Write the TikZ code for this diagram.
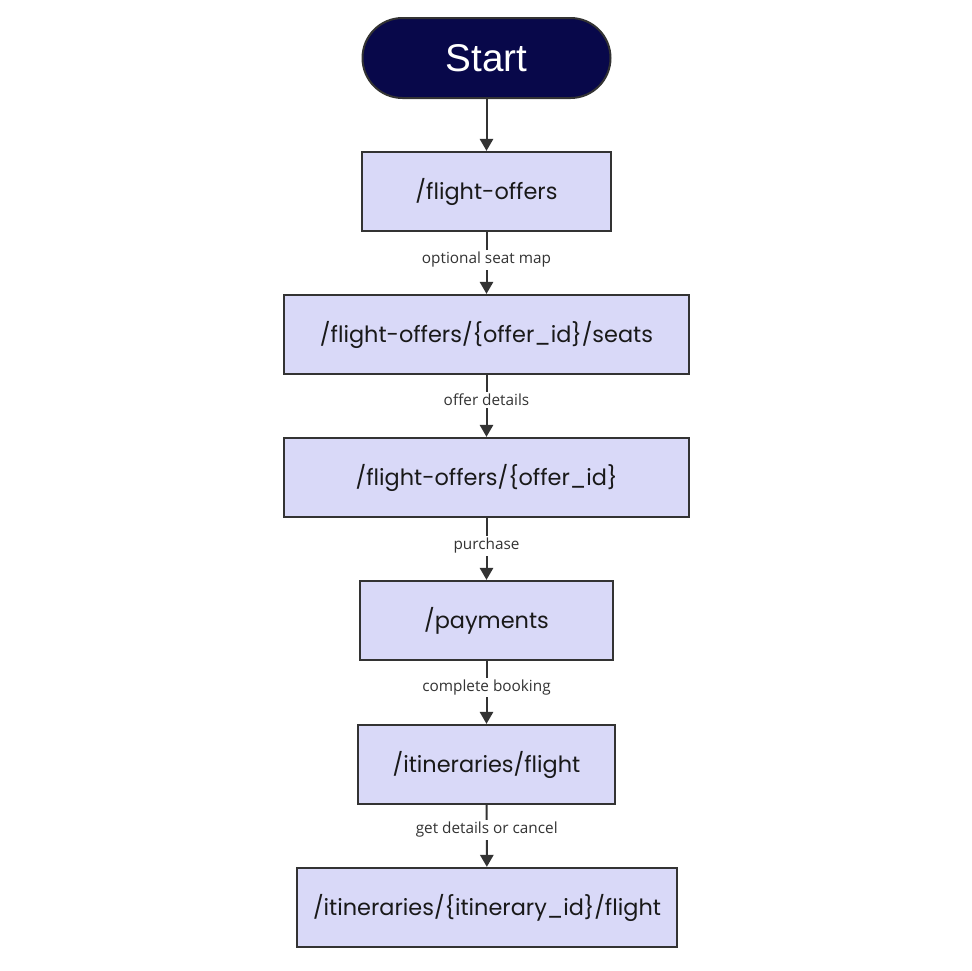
\documentclass[tikz,border=0pt]{standalone}
\usepackage{fontspec}
\setmainfont{Poppins}
\newfontfamily\startfont{Liberation Sans}
\newfontfamily\labelfont{Open Sans}
\usetikzlibrary{positioning,arrows.meta}
\definecolor{boxfill}{HTML}{D9D9F8}
\definecolor{startfill}{HTML}{08084A}
\definecolor{linegray}{HTML}{333333}
\begin{document}
\begin{tikzpicture}[x=0.75pt,y=0.75pt]
    \tikzstyle{every node}=[inner sep=0]
    \tikzstyle{start}=[draw=linegray,line width=1.5pt,fill=startfill,text=white,rounded corners=30pt,minimum width=186pt,minimum height=60pt,font=\startfont\fontsize{29}{30}\selectfont]
    \tikzstyle{api}=[draw=linegray,line width=1.5pt,fill=boxfill,text=black!90,minimum height=59.5pt,font=\fontsize{16.8}{18}\selectfont]
    \tikzstyle{flow}=[draw=linegray,line width=1.5pt,-{Triangle[width=10pt,length=9pt]}]
    \tikzstyle{note}=[fill=white,inner sep=1.5pt,text=black!80,font=\labelfont\fontsize{11.5}{13}\selectfont]
    \useasboundingbox (0,0) rectangle (971,-971);
    {
        \node[start] (start) at (486.5,-58) {Start};
        \node[api,minimum width=187pt] (offers) at (486.5,-191.5) {/flight-offers};
        \node[api,minimum width=304pt] (seats) at (486.5,-334.5) {/flight-offers/\{offer\_id\}/seats};
        \node[api,minimum width=304pt] (offer) at (486.5,-477.5) {/flight-offers/\{offer\_id\}};
        \node[api,minimum width=190pt] (payments) at (486.5,-620.5) {/payments};
        \node[api,minimum width=193pt] (itin) at (486.5,-764.5) {/itineraries/flight};
        \node[api,minimum width=285pt] (itinid) at (487,-907.5) {/itineraries/\{itinerary\_id\}/flight};

        \draw[flow] (start) -- (offers);
        \draw[flow] (offers) -- node[note,pos=0.45] {optional seat map} (seats);
        \draw[flow] (seats) -- node[note,pos=0.4] {offer details} (offer);
        \draw[flow] (offer) -- node[note,pos=0.45] {purchase} (payments);
        \draw[flow] (payments) -- node[note,pos=0.42] {complete booking} (itin);
        \draw[flow] (itin) -- node[note,pos=0.4] {get details or cancel} (itinid);
    }
\end{tikzpicture}
\end{document}
